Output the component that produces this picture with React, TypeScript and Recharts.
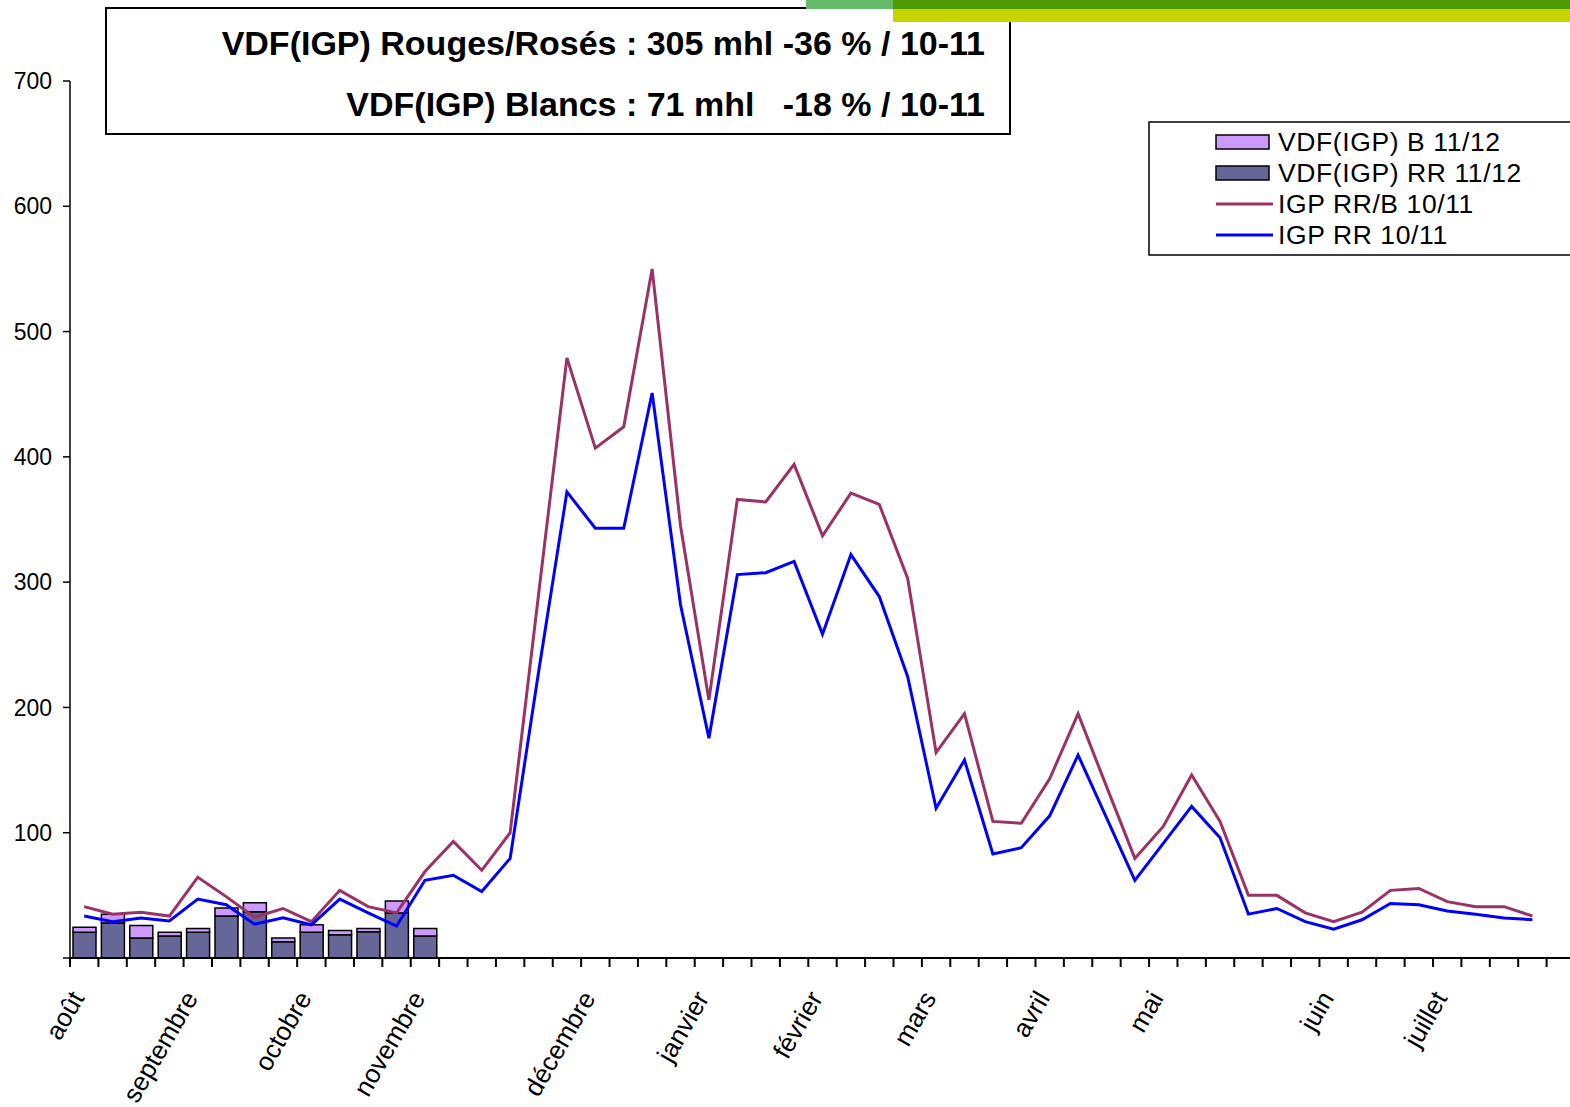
import React from 'react';
import { ComposedChart, Bar, Line, XAxis, YAxis } from 'recharts';

// ---- data ----
const monthLabels = ['août', 'septembre', 'octobre', 'novembre', 'décembre', 'janvier', 'février', 'mars', 'avril', 'mai', 'juin', 'juillet'];
const monthWeekIndex = [0, 4, 8, 12, 18, 22, 26, 30, 34, 38, 44, 48];
const weekCount = 53;

const vdfRR1112 = [20.5, 28, 16, 17.5, 20.5, 33.5, 37, 13, 20.5, 18.5, 21, 36, 17.5];
const vdfB1112 = [4, 7, 10, 3, 3, 6.5, 7, 3, 6, 3.5, 2.5, 9.5, 6];

const igpRRB1011 = [41, 35, 36.5, 33.5, 64.5, 49, 32.5, 39.5, 29, 54, 41, 36, 69, 93, 70, 100, 290, 479, 407, 424, 550, 345, 206, 366, 364, 394, 337, 371, 362, 303, 164, 195, 109, 107.5, 143, 195, 137, 79.5, 105, 146, 109, 50, 50, 36, 29, 36.5, 54, 55.5, 45, 41, 41, 33.5];
const igpRR1011 = [33.5, 29, 32, 29.5, 47, 42.5, 27, 32, 26.5, 47, 36, 25.5, 62, 66, 53, 79.5, 228, 372, 343, 343, 451, 282, 175.5, 306, 307.5, 316.5, 258.5, 322, 288.5, 224.5, 119.5, 158, 83, 88, 113.5, 162, 112, 62, 91.5, 121, 96, 35, 39.5, 29, 23, 30.5, 43.5, 42.5, 37.5, 35, 32, 30.5];

const yTicks = [0, 100, 200, 300, 400, 500, 600, 700];

const titleLines = ['VDF(IGP) Rouges/Rosés : 305 mhl -36 % / 10-11', 'VDF(IGP) Blancs : 71 mhl   -18 % / 10-11'];

const legendItems = [
  { name: 'VDF(IGP) B 11/12', color: '#CC99FF', kind: 'bar' },
  { name: 'VDF(IGP) RR 11/12', color: '#666699', kind: 'bar' },
  { name: 'IGP RR/B 10/11', color: '#993366', kind: 'line' },
  { name: 'IGP RR 10/11', color: '#0000FF', kind: 'line' },
];

const data = Array.from({ length: weekCount }, (_, i) => ({
  x: i + 0.5,
  rr: i < vdfRR1112.length ? vdfRR1112[i] : null,
  b: i < vdfB1112.length ? vdfB1112[i] : null,
  rrb: i < igpRRB1011.length ? igpRRB1011[i] : null,
  rr10: i < igpRR1011.length ? igpRR1011[i] : null,
}));

const monthPositions = monthWeekIndex.map((i) => i + 0.5);
const boundaryTicks = Array.from({ length: weekCount + 1 }, (_, i) => i);
const xTicks = [...boundaryTicks, ...monthPositions].sort((a, b) => a - b);

const FONT = '"Liberation Sans", Arial, sans-serif';

const XTick = (props: any) => {
  const { x, y, payload } = props;
  const v = payload.value;
  if (Number.isInteger(v)) {
    return <line x1={x} y1={y} x2={x} y2={y + 9} stroke="#000" strokeWidth={2} />;
  }
  const idx = monthPositions.indexOf(v);
  const label = idx >= 0 ? monthLabels[idx] : '';
  const ax = x + 1;
  const ay = y + 40;
  return (
    <text x={ax} y={ay} textAnchor="end" transform={`rotate(-60 ${ax} ${ay})`} fontSize={26} fontFamily={FONT} fill="#000">
      {label}
    </text>
  );
};

export default function App() {
  return (
    <div style={{ position: 'fixed', left: 0, top: 0, width: 1570, height: 1107, overflow: 'hidden', background: '#fff' }}>
      <ComposedChart width={1575} height={1107} data={data} margin={{ top: 81, right: 0, left: 0, bottom: 0 }}>
        <XAxis
          dataKey="x"
          type="number"
          domain={[0, weekCount]}
          ticks={xTicks}
          interval={0}
          height={149}
          tickLine={false}
          tickSize={0}
          tickMargin={0}
          tick={<XTick />}
          axisLine={{ stroke: '#000', strokeWidth: 2 }}
          allowDataOverflow
        />
        <YAxis
          type="number"
          domain={[0, 700]}
          ticks={yTicks}
          interval={0}
          width={70}
          tickSize={7}
          tickMargin={11}
          tickFormatter={(v: number) => (v === 0 ? '' : String(v))}
          tick={{ fontSize: 23, fontFamily: FONT, fill: '#000' }}
          axisLine={{ stroke: '#000', strokeWidth: 1.5 }}
          tickLine={{ stroke: '#000', strokeWidth: 1.5 }}
        />
        <Bar dataKey="rr" stackId="s" fill="#666699" stroke="#000" strokeWidth={1.5} barSize={23} isAnimationActive={false} />
        <Bar dataKey="b" stackId="s" fill="#CC99FF" stroke="#000" strokeWidth={1.5} barSize={23} isAnimationActive={false} />
        <Line dataKey="rrb" type="linear" stroke="#993366" strokeWidth={3} dot={false} isAnimationActive={false} connectNulls={false} />
        <Line dataKey="rr10" type="linear" stroke="#0000FF" strokeWidth={3} dot={false} isAnimationActive={false} connectNulls={false} />
      </ComposedChart>
      <svg width={1570} height={1107} style={{ position: 'absolute', left: 0, top: 0, pointerEvents: 'none' }}>
        {/* title box */}
        <rect x={106} y={8} width={904} height={126} fill="none" stroke="#000" strokeWidth={2} />
        <rect x={806} y={0} width={87} height={9} fill="#66BB6A" />
        <rect x={893} y={0} width={677} height={9} fill="#4F9A00" />
        <rect x={893} y={9} width={677} height={13} fill="#C8D400" />
        {titleLines.map((t, i) => (
          <text key={i} x={985} y={55 + i * 61} textAnchor="end" fontSize={34} fontWeight="bold" fontFamily={FONT} fill="#000" style={{ whiteSpace: 'pre' }}>
            {t}
          </text>
        ))}
        {/* legend */}
        <rect x={1149} y={122} width={440} height={133} fill="#fff" stroke="#000" strokeWidth={1.5} />
        {legendItems.map((it, i) => {
          const cy = 142 + i * 31;
          return (
            <g key={it.name}>
              {it.kind === 'bar' ? (
                <rect x={1216} y={cy - 7} width={53} height={14} fill={it.color} stroke="#000" strokeWidth={1.5} />
              ) : (
                <line x1={1216} y1={cy} x2={1273} y2={cy} stroke={it.color} strokeWidth={3} />
              )}
              <text x={1278} y={cy + 9} fontSize={26.5} letterSpacing={0.6} fontFamily={FONT} fill="#000">
                {it.name}
              </text>
            </g>
          );
        })}
      </svg>
    </div>
  );
}
